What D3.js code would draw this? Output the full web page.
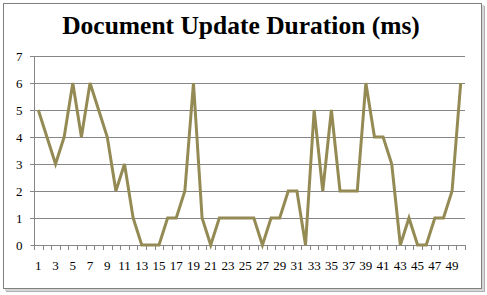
<!DOCTYPE html>
<html><head><meta charset="utf-8">
<script src="https://cdn.jsdelivr.net/npm/d3@7"></script>
<style>body{margin:0;background:#fff}svg{display:block}</style>
</head><body>
<svg id="c" width="487" height="295"></svg>
<script>
const title = "Document Update Duration (ms)";
const categories = d3.range(1, 51);
const values = [5,4,3,4,6,4,6,5,4,2,3,1,0,0,0,1,1,2,6,1,0,1,1,1,1,1,0,1,1,2,2,0,5,2,5,2,2,2,6,4,4,3,0,1,0,0,1,1,2,6];
const yTicks = [0,1,2,3,4,5,6,7];
const xTickLabels = categories.filter(d => d % 2 === 1);

const svg = d3.select("#c");
// shadow + border
svg.append("rect").attr("x",6).attr("y",6).attr("width",479).attr("height",286).attr("fill","#b0b0b0");
svg.append("rect").attr("x",5).attr("y",5).attr("width",479).attr("height",286).attr("fill","#d6d6d6");
svg.append("rect").attr("x",3.5).attr("y",3.5).attr("width",478).attr("height",285).attr("fill","#fff").attr("stroke","#7f7f7f").attr("stroke-width",1);

const m = {l:34, r:465, t:56, b:245};
const x = d3.scaleBand().domain(categories).range([m.l, m.r]);
const y = d3.scaleLinear().domain([0,7]).range([m.b, m.t]);

// gridlines
svg.append("g").selectAll("line").data(yTicks.filter(d=>d>0)).join("line")
  .attr("x1", m.l-4).attr("x2", m.r).attr("y1", d=>Math.round(y(d))+0.5).attr("y2", d=>Math.round(y(d))+0.5)
  .attr("stroke","#868686").attr("stroke-width",1);

// y axis
const yAxis = d3.axisLeft(y).tickValues(yTicks).tickSize(4).tickPadding(8).tickFormat(d3.format("d"));
const gy = svg.append("g").attr("transform",`translate(${m.l+0.5},0)`).call(yAxis);
gy.select(".domain").attr("stroke","#868686").attr("d",`M0,${y(7)}V${y(0)}`);
gy.selectAll(".tick line").attr("stroke","#868686");
gy.selectAll(".tick").attr("transform", d=>`translate(0,${Math.round(y(d))+0.5})`);
gy.selectAll("text").attr("font-family","'Liberation Serif', serif").attr("font-size",13).attr("fill","#000");

// x axis
const xAxis = d3.axisBottom(x).tickValues(xTickLabels).tickSize(0).tickPadding(15);
const gx = svg.append("g").attr("transform",`translate(0,${Math.round(y(0))+0.5})`).call(xAxis);
gx.select(".domain").attr("stroke","#868686").attr("d",`M${m.l},0H${m.r}`);
gx.selectAll("text").attr("font-family","'Liberation Serif', serif").attr("font-size",13).attr("fill","#000");
// boundary tick marks
svg.append("g").selectAll("line").data(categories.concat([null])).join("line")
  .attr("x1", (d,i)=>Math.round(m.l + i*x.step())+0.5).attr("x2",(d,i)=>Math.round(m.l + i*x.step())+0.5)
  .attr("y1", Math.round(y(0))).attr("y2", Math.round(y(0))+5)
  .attr("stroke","#868686");

// line
const line = d3.line().x((d,i)=>x(categories[i])+x.bandwidth()/2).y(d=>y(d));
svg.append("path").datum(values).attr("d",line).attr("fill","none")
  .attr("stroke","#948A54").attr("stroke-width",3).attr("stroke-linejoin","miter");

// title
svg.append("text").attr("x",241).attr("y",34).attr("text-anchor","middle")
  .attr("font-family","'Liberation Serif', serif").attr("font-weight","bold").attr("font-size",25.5)
  .attr("fill","#000").text(title);
</script>
</body></html>
